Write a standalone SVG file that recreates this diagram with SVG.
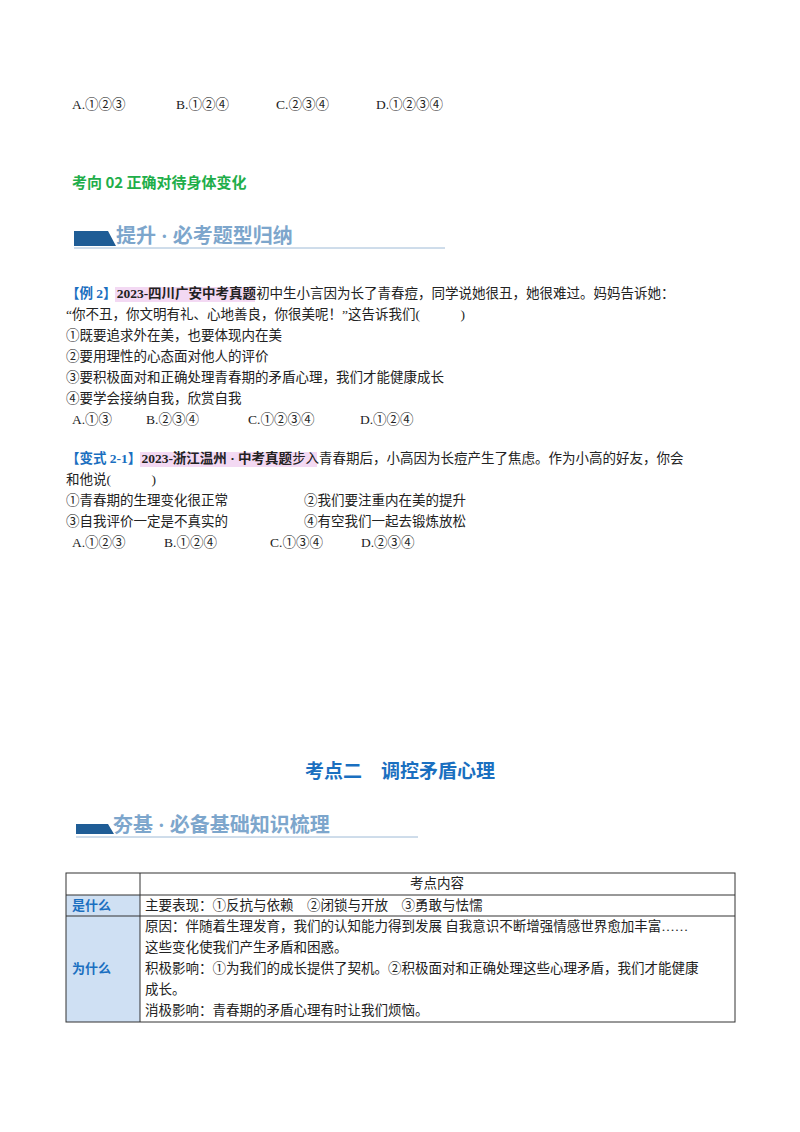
<svg xmlns="http://www.w3.org/2000/svg" width="800" height="1132" viewBox="0 0 800 1132">
<style>
text{font-family:"Liberation Serif","Noto Sans CJK SC",serif;font-size:13.5px;fill:#222}
.b{font-weight:bold}
.blue{fill:#1a6fc0;font-weight:bold}
.ban{font-family:"Liberation Serif","Noto Sans CJK SC",serif;font-size:20px;font-weight:bold;fill:#7da6cc}
.hl{fill:#f3d9f3}
.cell{fill:#cfe0f3}
</style>
<rect width="800" height="1132" fill="#fff"/>
<text x="72" y="109">A.①②③</text><text x="176" y="109">B.①②④</text><text x="276" y="109">C.②③④</text><text x="376" y="109">D.①②③④</text>
<text x="72" y="188" style="font-family:'Noto Sans CJK SC',sans-serif;font-size:15px;font-weight:bold;fill:#1fae4a">考向 02  正确对待身体变化</text>
<g id="banner1"><polygon points="74,231 108,231 116,246 74,246" fill="#1f5d96"/><line x1="74" y1="248" x2="445" y2="248" stroke="#9ebad6" stroke-width="1"/><text class="ban" x="116" y="243">提升 · 必考题型归纳</text></g>
<rect class="hl" x="115" y="287" width="140" height="15"/>
<text x="66" y="298"><tspan class="blue">【例 2】</tspan><tspan class="b">2023-四川广安中考真题</tspan>初中生小言因为长了青春痘，同学说她很丑，她很难过。妈妈告诉她：</text>
<text x="66" y="319">“你不丑，你文明有礼、心地善良，你很美呢！”这告诉我们(　　　)</text>
<text x="66" y="340">①既要追求外在美，也要体现内在美</text>
<text x="66" y="361">②要用理性的心态面对他人的评价</text>
<text x="66" y="382">③要积极面对和正确处理青春期的矛盾心理，我们才能健康成长</text>
<text x="66" y="403">④要学会接纳自我，欣赏自我</text>
<text x="72" y="424">A.①③</text><text x="146" y="424">B.②③④</text><text x="248" y="424">C.①②③④</text><text x="360" y="424">D.①②④</text>
<rect class="hl" x="140" y="452" width="177" height="15"/>
<text x="66" y="463"><tspan class="blue">【变式 2-1】</tspan><tspan class="b">2023-浙江温州 · 中考真题</tspan>步入青春期后，小高因为长痘产生了焦虑。作为小高的好友，你会</text>
<text x="66" y="484">和他说(　　　)</text>
<text x="66" y="505">①青春期的生理变化很正常</text><text x="304" y="505">②我们要注重内在美的提升</text>
<text x="66" y="526">③自我评价一定是不真实的</text><text x="304" y="526">④有空我们一起去锻炼放松</text>
<text x="72" y="547">A.①②③</text><text x="164" y="547">B.①②④</text><text x="270" y="547">C.①③④</text><text x="361" y="547">D.②③④</text>
<text x="400" y="778" text-anchor="middle" style="font-family:'Noto Sans CJK SC',sans-serif;font-size:19px;font-weight:bold;fill:#1a6fc0">考点二　调控矛盾心理</text>
<g id="banner2"><polygon points="76,824 108,824 114,834 76,834" fill="#1f5d96"/><line x1="76" y1="837" x2="418" y2="837" stroke="#9ebad6" stroke-width="1"/><text class="ban" x="113" y="832">夯基 · 必备基础知识梳理</text></g>
<g id="table">
<rect class="cell" x="66" y="895" width="74" height="21"/>
<rect class="cell" x="66" y="916" width="74" height="106"/>
<g stroke="#333" stroke-width="1" fill="none">
<rect x="66" y="873" width="669" height="149"/>
<line x1="140" y1="873" x2="140" y2="1022"/>
<line x1="66" y1="895" x2="735" y2="895"/>
<line x1="66" y1="916" x2="735" y2="916"/>
</g>
<text x="437" y="888" text-anchor="middle">考点内容</text>
<text x="72" y="910" class="blue" style="font-family:'Noto Sans CJK SC',sans-serif;font-size:13px">是什么</text>
<text x="145" y="910">主要表现：①反抗与依赖　②闭锁与开放　③勇敢与怯懦</text>
<text x="72" y="973" class="blue" style="font-family:'Noto Sans CJK SC',sans-serif;font-size:13px">为什么</text>
<text x="145" y="931">原因：伴随着生理发育，我们的认知能力得到发展 自我意识不断增强情感世界愈加丰富……</text>
<text x="145" y="952">这些变化使我们产生矛盾和困惑。</text>
<text x="145" y="973">积极影响：①为我们的成长提供了契机。②积极面对和正确处理这些心理矛盾，我们才能健康</text>
<text x="145" y="994">成长。</text>
<text x="145" y="1015">消极影响：青春期的矛盾心理有时让我们烦恼。</text>
</g>
</svg>
